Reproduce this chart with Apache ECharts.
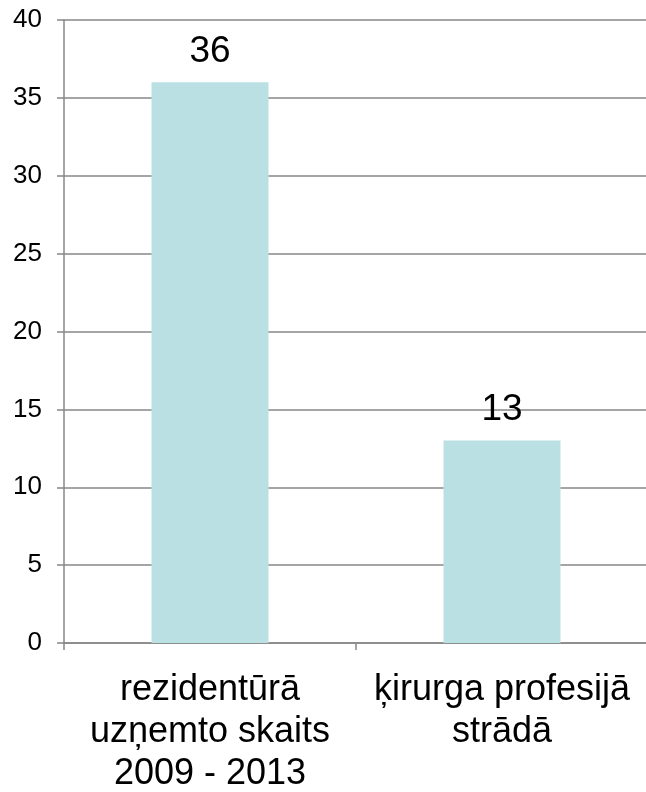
<!DOCTYPE html>
<html>
<head>
<meta charset="utf-8">
<script src="https://cdn.jsdelivr.net/npm/echarts@6/dist/echarts.min.js"></script>
<style>
html,body{margin:0;padding:0;background:#fff;}
#chart{width:646px;height:792px;}
</style>
</head>
<body>
<div id="chart"></div>
<script>
const categories = ['rezidentūrā\nuzņemto skaits\n2009 - 2013', 'ķirurga profesijā\nstrādā'];
const values = [36, 13];
const yTicks = { min: 0, max: 40, interval: 5 };

const axisGray = '#878787';
const chart = echarts.init(document.getElementById('chart'), null, { renderer: 'canvas' });
chart.setOption({
  animation: false,
  backgroundColor: '#ffffff',
  grid: { left: 64, right: -2, top: 20, bottom: 149, containLabel: false, outerBoundsMode: 'none' },
  xAxis: {
    type: 'category',
    data: categories,
    boundaryGap: true,
    axisLine: { show: true, lineStyle: { color: axisGray, width: 1.5 } },
    axisTick: { show: true, length: 7, alignWithLabel: false, lineStyle: { color: axisGray, width: 1.5 } },
    axisLabel: {
      color: '#000', fontFamily: 'Liberation Sans, Arial, sans-serif', fontSize: 36,
      lineHeight: 42, margin: 26, interval: 0
    }
  },
  yAxis: {
    type: 'value',
    min: yTicks.min, max: yTicks.max, interval: yTicks.interval,
    axisLine: { show: true, lineStyle: { color: axisGray, width: 1.5 } },
    axisTick: { show: true, length: 7, lineStyle: { color: axisGray, width: 1.5 } },
    splitLine: { show: true, lineStyle: { color: axisGray, width: 1.5 } },
    axisLabel: { color: '#000', fontFamily: 'Liberation Sans, Arial, sans-serif', fontSize: 26, margin: 22 }
  },
  series: [{
    type: 'bar',
    data: values,
    barWidth: 117,
    itemStyle: { color: '#BAE0E3' },
    label: {
      show: true, position: 'top', distance: 12,
      color: '#000', fontFamily: 'Liberation Sans, Arial, sans-serif', fontSize: 37
    }
  }]
});
</script>
</body>
</html>
